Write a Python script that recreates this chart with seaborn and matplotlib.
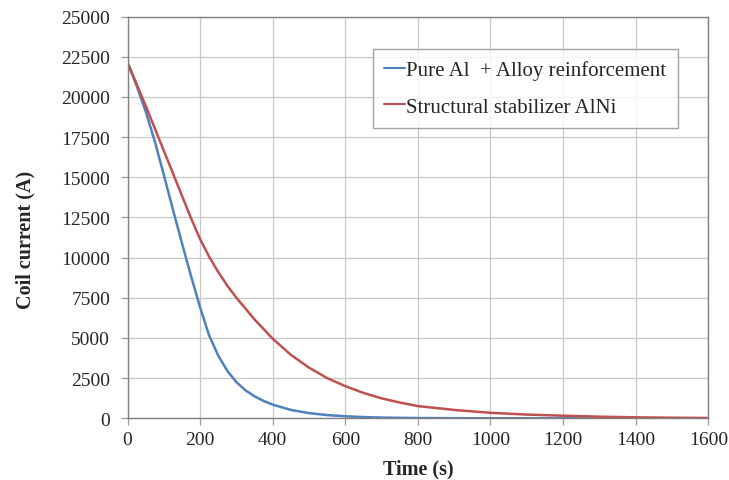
import matplotlib
matplotlib.use("Agg")
import matplotlib.pyplot as plt
import seaborn as sns
import pandas as pd

# Data
time_blue = [0, 25, 50, 75, 100, 125, 150, 175, 200, 225, 250, 275, 300, 325, 350,
             375, 400, 450, 500, 550, 600, 650, 700, 800, 900, 1000, 1200, 1400, 1600]
current_blue = [22150, 20700, 19100, 17250, 15150, 13000, 10900, 8850, 6900, 5150,
                3900, 2950, 2250, 1740, 1370, 1080, 850, 520, 320, 200, 125, 75, 45,
                15, 5, 2, 0, 0, 0]

time_red = [0, 25, 50, 75, 100, 125, 150, 175, 200, 225, 250, 275, 300, 350, 400,
            450, 500, 550, 600, 650, 700, 750, 800, 900, 1000, 1100, 1200, 1300,
            1400, 1500, 1600]
current_red = [22150, 20800, 19450, 18050, 16650, 15250, 13850, 12450, 11150, 10050,
               9100, 8250, 7500, 6150, 4950, 3950, 3150, 2500, 2000, 1580, 1240, 980,
               760, 520, 340, 230, 160, 100, 60, 35, 20]

label_blue = "Pure Al  + Alloy reinforcement"
label_red = "Structural stabilizer AlNi"

x_ticks = [0, 200, 400, 600, 800, 1000, 1200, 1400, 1600]
y_ticks = [0, 2500, 5000, 7500, 10000, 12500, 15000, 17500, 20000, 22500, 25000]

df = pd.concat([
    pd.DataFrame({"Time": time_blue, "Current": current_blue, "Series": label_blue}),
    pd.DataFrame({"Time": time_red, "Current": current_red, "Series": label_red}),
], ignore_index=True)

sns.set_style("white")
plt.rcParams["font.family"] = ["Liberation Serif", "DejaVu Serif"]
plt.rcParams["lines.solid_joinstyle"] = "round"

fig = plt.figure(figsize=(7.29, 4.81), dpi=100)
ax = fig.add_axes([0.1749, 0.1283, 0.9716 - 0.1749, 0.9636 - 0.1283])

sns.lineplot(data=df, x="Time", y="Current", hue="Series",
             palette={label_blue: "#4F81BD", label_red: "#C0504D"},
             linewidth=1.8, ax=ax, sort=True, estimator=None)

ax.set_xlim(0, 1600)
ax.set_ylim(0, 25000)
ax.set_xticks(x_ticks)
ax.set_yticks(y_ticks)
ax.set_xticklabels([str(v) for v in x_ticks])
ax.set_yticklabels([str(v) for v in y_ticks])
ax.grid(True, color="#C8C8C8", linewidth=0.9)
ax.set_axisbelow(True)
for side in ["left", "bottom", "right", "top"]:
    ax.spines[side].set_visible(True)
    ax.spines[side].set_color("#7F7F7F")
    ax.spines[side].set_linewidth(1.0)
ax.tick_params(axis="both", which="both", direction="out", length=5, width=0.9,
               color="#9A9A9A", labelsize=14, left=True, bottom=True)
ax.tick_params(axis="y", pad=7.5)
ax.tick_params(axis="x", pad=4)

ax.set_xlabel("Time (s)", fontsize=14.5, fontweight="bold", labelpad=8)
ax.set_ylabel("Coil current (A)", fontsize=14.5, fontweight="bold")
ax.yaxis.set_label_coords(-0.159, 0.446)

leg = ax.legend(loc="upper left", bbox_to_anchor=(0.4227, 0.9190), fontsize=15,
                frameon=True, fancybox=False, handlelength=1.0, handletextpad=0.05,
                borderpad=0.55, labelspacing=0.8, borderaxespad=0)
leg.get_frame().set_edgecolor("#8C8C8C")
leg.get_frame().set_linewidth(1.0)
for line in leg.get_lines():
    line.set_linewidth(1.5)

fig.savefig("out.png", dpi=100)
